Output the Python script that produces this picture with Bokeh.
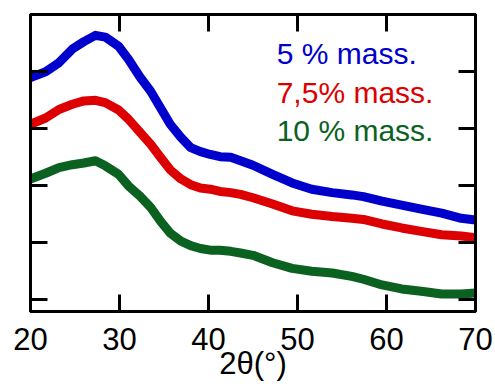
from bokeh.plotting import figure
from bokeh.models import LinearAxis, FixedTicker, Range1d, Label
from bokeh.embed import file_html
from bokeh.resources import INLINE

# 2-theta positions (degrees)
two_theta = [20.0, 21.7, 23.2, 24.7, 26.0, 27.3, 28.4, 29.9, 31.0, 32.3,
             33.5, 34.6, 35.7, 36.9, 38.0, 39.1, 40.2, 41.3, 42.5, 43.6,
             45.0, 47.2, 49.4, 51.6, 53.9, 56.1, 57.4, 59.5, 61.7, 63.9,
             66.2, 68.4, 70.0]

# intensities (arbitrary units, stacked)
mass_5 = [3.89, 3.99, 4.15, 4.39, 4.52, 4.63, 4.60, 4.44, 4.21, 3.90,
          3.65, 3.36, 3.07, 2.84, 2.66, 2.59, 2.54, 2.50, 2.49, 2.43,
          2.35, 2.19, 2.04, 1.93, 1.87, 1.83, 1.80, 1.72, 1.65, 1.58,
          1.51, 1.42, 1.39]
mass_7_5 = [3.07, 3.18, 3.33, 3.42, 3.48, 3.49, 3.45, 3.32, 3.16, 2.93,
            2.72, 2.49, 2.27, 2.11, 2.01, 1.95, 1.93, 1.89, 1.87, 1.84,
            1.78, 1.67, 1.55, 1.49, 1.45, 1.42, 1.40, 1.32, 1.25, 1.19,
            1.13, 1.11, 1.08]
mass_10 = [2.11, 2.21, 2.31, 2.36, 2.39, 2.43, 2.34, 2.19, 1.99, 1.81,
           1.61, 1.37, 1.16, 1.02, 0.94, 0.89, 0.86, 0.86, 0.84, 0.81,
           0.77, 0.64, 0.54, 0.49, 0.46, 0.40, 0.35, 0.25, 0.18, 0.14,
           0.09, 0.09, 0.11]

series_labels = ["5 % mass.", "7,5% mass.", "10 % mass."]
series_colors = ["#0000CD", "#DD0000", "#0B611F"]

x_ticks = [20, 30, 40, 50, 60, 70]
y_ticks = [0, 1, 2, 3, 4]
x_title = "2θ(°)"

FONT = "Liberation Sans"

p = figure(frame_width=445, frame_height=297,
           x_range=Range1d(20, 70), y_range=Range1d(-0.216, 4.996),
           output_backend="svg", toolbar_location=None,
           min_border_left=30, min_border_right=20,
           min_border_top=14, min_border_bottom=77)
p.grid.visible = False
p.outline_line_color = "black"
p.outline_line_width = 3
p.background_fill_color = "white"
p.border_fill_color = "white"

p.add_layout(LinearAxis(), "above")
p.add_layout(LinearAxis(), "right")

for ax in p.xaxis:
    ax.ticker = FixedTicker(ticks=x_ticks)
for ax in p.yaxis:
    ax.ticker = FixedTicker(ticks=y_ticks)

for ax in p.axis:
    ax.axis_line_width = 3
    ax.axis_line_color = "black"
    ax.major_tick_in = 17
    ax.major_tick_out = 0
    ax.major_tick_line_width = 3
    ax.major_tick_line_color = "black"
    ax.minor_tick_line_color = None
    ax.major_label_text_font_size = "1px"
    ax.major_label_text_color = None
    ax.major_label_standoff = 0

bottom = p.below[0]
bottom.major_label_text_font = FONT
bottom.major_label_text_font_size = "31px"
bottom.major_label_text_color = "black"
bottom.major_label_standoff = 16
bottom.axis_label = x_title
bottom.axis_label_text_font = FONT
bottom.axis_label_text_font_style = "normal"
bottom.axis_label_text_font_size = "31px"
bottom.axis_label_text_color = "black"
bottom.axis_label_standoff = -7

for ys, col in zip([mass_5, mass_7_5, mass_10], series_colors):
    p.line(two_theta, ys, line_color=col, line_width=9, line_join="round")

# series labels
for lab, col, yy in zip(series_labels, series_colors, [4.31, 3.63, 2.965]):
    p.add_layout(Label(x=47.66, y=yy, text=lab, text_color=col,
                       text_font=FONT, text_font_size="30px",
                       text_baseline="alphabetic", text_align="left"))

open("out.html", "w").write(file_html(p, INLINE))
